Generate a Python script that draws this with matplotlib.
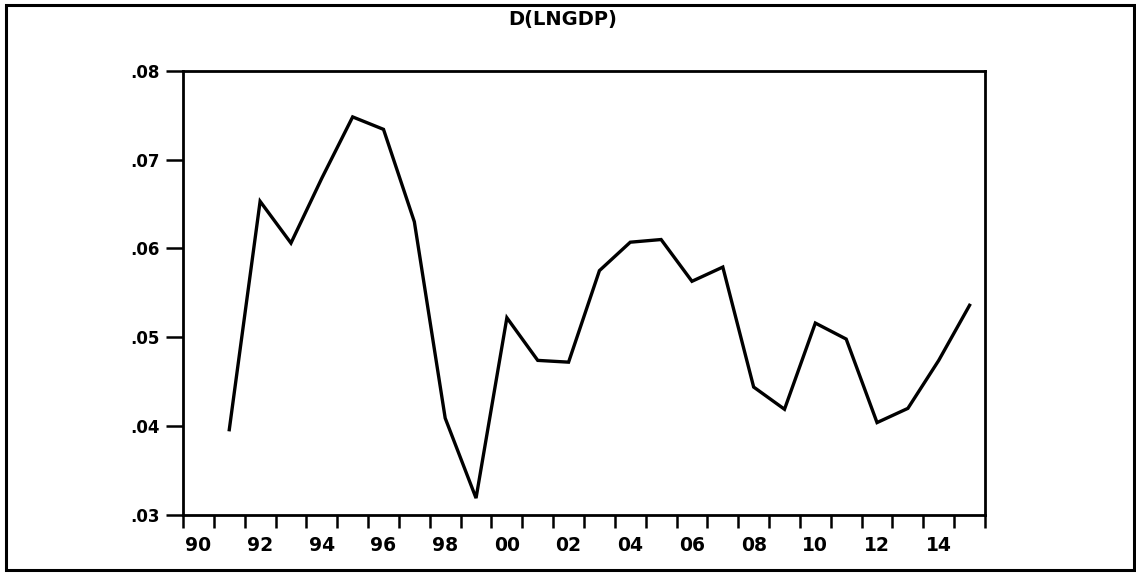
import matplotlib
matplotlib.use("Agg")
import matplotlib.pyplot as plt
from matplotlib.patches import Rectangle
from matplotlib.ticker import FixedLocator

years = list(range(1991, 2016))
dlngdp = [0.0396, 0.0653, 0.0606, 0.0679, 0.0748, 0.0734, 0.0630, 0.0409,
          0.0319, 0.0522, 0.0474, 0.0472, 0.0575, 0.0607, 0.0610, 0.0563,
          0.0579, 0.0444, 0.0419, 0.0516, 0.0498, 0.0404, 0.0420, 0.0474,
          0.0536]
label_years = list(range(1990, 2015, 2))
x_labels = ["90", "92", "94", "96", "98", "00", "02", "04", "06", "08",
            "10", "12", "14"]
y_ticks = [0.03, 0.04, 0.05, 0.06, 0.07, 0.08]
y_labels = [".03", ".04", ".05", ".06", ".07", ".08"]
title = "D(LNGDP)"

plt.rcParams['font.family'] = ['DejaVu Sans']

W, H = 1136, 573
fig = plt.figure(figsize=(W / 100, H / 100), dpi=100)
fig.patch.set_facecolor("white")

left, right, top, bottom = 183, 985, 70.7, 515
ax = fig.add_axes([left / W, 1 - bottom / H, (right - left) / W, (bottom - top) / H])

ax.plot(years, dlngdp, color="black", lw=2.4, solid_joinstyle="miter")

ax.set_xlim(1989.5, 2015.5)
ax.set_ylim(0.03, 0.08)

# year-boundary ticks, labels centred in the year intervals
boundaries = [y - 0.5 for y in range(1990, 2017)]
ax.xaxis.set_major_locator(FixedLocator(boundaries))
ax.set_xticklabels([""] * len(boundaries))
ax.xaxis.set_minor_locator(FixedLocator(label_years))
ax.set_xticklabels(x_labels, minor=True)
ax.tick_params(axis="x", which="major", direction="out", length=9, width=1.8,
               color="black")
ax.tick_params(axis="x", which="minor", length=0, pad=15, labelsize=13.5)

ax.set_yticks(y_ticks)
ax.set_yticklabels(y_labels)
ax.tick_params(axis="y", direction="out", length=12, width=1.8, pad=5,
               labelsize=12)

for lab in ax.get_xticklabels(minor=True) + ax.get_yticklabels():
    lab.set_fontweight("bold")

for s in ax.spines.values():
    s.set_linewidth(2)
    s.set_color("black")

fig.text(563 / W, 1 - 19 / H, title, ha="center", va="center", fontsize=14,
         fontweight="bold")

fig.patches.append(Rectangle((6 / W, 3 / H), (1134 - 6) / W, (568 - 3) / H,
                             transform=fig.transFigure, fill=False,
                             edgecolor="black", lw=2.2))

fig.savefig("out.png", dpi=100)
